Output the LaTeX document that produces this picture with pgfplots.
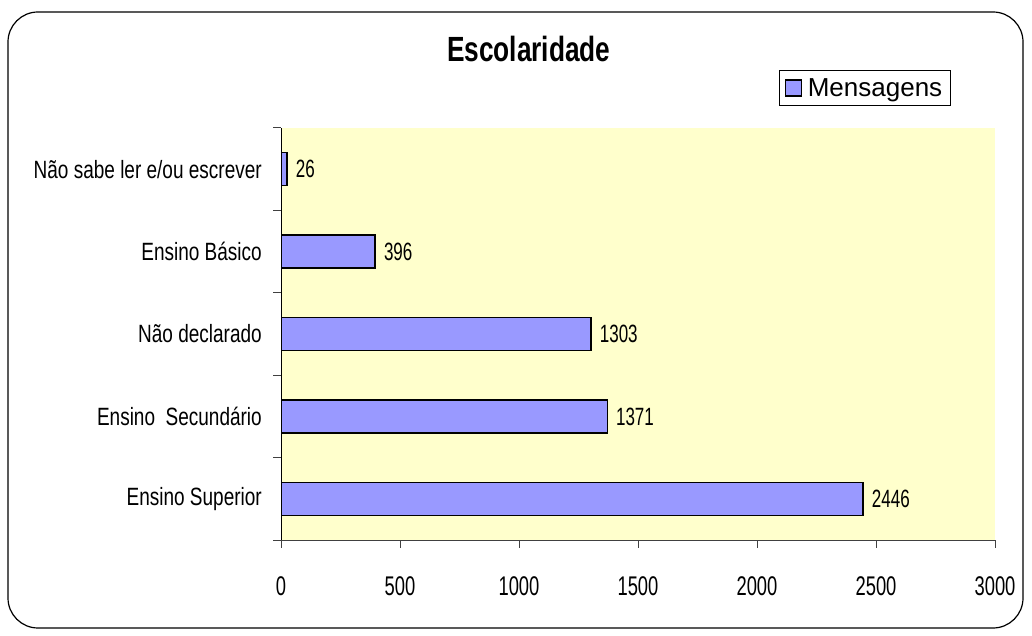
\documentclass[border=0pt]{standalone}
\usepackage{fontspec}
\setmainfont{Liberation Sans}
\newfontfamily\catfont{Liberation Sans}[FakeStretch=0.76]
\newfontfamily\numfont{Liberation Sans}[FakeStretch=0.68]
\newfontfamily\titlefont{Liberation Sans}[FakeStretch=0.75]
\usepackage{pgfplots}
\pgfplotsset{compat=1.18}
\definecolor{barfill}{HTML}{9999FF}
\definecolor{plotbg}{HTML}{FFFFCC}
\begin{document}
\begin{tikzpicture}
\useasboundingbox (0,0) rectangle (1032bp,636bp);
\draw[line width=1.2bp, rounded corners=30bp] (8bp,8bp) rectangle (1023bp,624bp);
\begin{axis}[
  at={(281bp,96bp)}, anchor=south west,
  scale only axis, width=714bp, height=412bp,
  xbar, bar width=33bp,
  xmin=0, xmax=3000, ymin=-0.5, ymax=4.5,
  axis x line*=bottom, axis y line*=left,
  axis line style={line width=1bp},
  x axis line style={draw=black!75},
  axis background/.style={fill=plotbg},
  tick align=outside, major tick length=8bp,
  every tick/.style={line width=1bp, black!75},
  xtick={0,500,...,3000},
  ytick={-0.5,0.5,...,4.5}, yticklabels={},
  extra y ticks={0,1,2,3,4},
  extra y tick labels={Ensino Superior, Ensino\ \ Secundário, Não declarado, Ensino Básico, Não sabe ler e/ou escrever},
  extra y tick style={major tick length=0pt, yticklabel style={font=\catfont\fontsize{25bp}{28bp}\selectfont, inner sep=0pt, xshift=-19bp}},
  xticklabel style={font=\numfont\fontsize{27bp}{30bp}\selectfont, inner sep=0pt, yshift=-28bp},
  /pgf/number format/assume math mode=true,
  /pgf/number format/1000 sep={},
  point meta=x,
  nodes near coords,
  nodes near coords style={font=\numfont\fontsize{25bp}{27bp}\selectfont, anchor=west, inner sep=0pt, xshift=8bp, black},
  title={Escolaridade},
  title style={font=\titlefont\bfseries\fontsize{35bp}{38bp}\selectfont, at={(0.347,1.146)}, anchor=base, inner sep=0pt},
  legend style={at={(0.938,1.141)}, anchor=north east, draw=black, line width=1bp,
    font=\fontsize{26bp}{28bp}\selectfont, inner xsep=5bp, inner ysep=5bp,
    column sep=3bp,
    nodes={inner xsep=3bp, inner ysep=3bp}},
  legend image code/.code={\draw[fill=barfill, draw=black, line width=1.3bp] (0bp,-8bp) rectangle (16bp,8bp);},
]
\addplot[fill=barfill, draw=black, line width=1.5bp] coordinates {(2446,0) (1371,1) (1303,2) (396,3) (26,4)};
\addlegendentry{Mensagens}
\end{axis}
\end{tikzpicture}
\end{document}
